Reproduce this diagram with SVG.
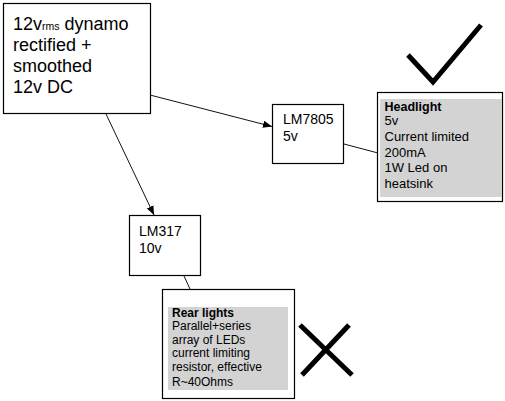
<svg xmlns="http://www.w3.org/2000/svg" width="505" height="401" viewBox="0 0 505 401">
<style>
.box{fill:#fff;stroke:#000;stroke-width:1.2}
.gray{fill:#d3d3d3;stroke:none}
.t{font-family:"Liberation Sans",Arial,sans-serif;fill:#000}
.conn{stroke:#111;stroke-width:1;fill:none}
.mark{stroke:#000;stroke-width:5;fill:none}
</style>
<defs>
<marker id="arr" viewBox="0 0 10 10" refX="10" refY="5" markerWidth="9" markerHeight="9" markerUnits="userSpaceOnUse" orient="auto">
<path d="M0,1 L10,5 L0,9 Z" fill="#000"/>
</marker>
</defs>
<rect width="505" height="401" fill="#fff"/>
<g id="connectors">
<line class="conn" x1="150" y1="95" x2="272" y2="126.5" marker-end="url(#arr)"/>
<line class="conn" x1="106" y1="114" x2="154" y2="215" marker-end="url(#arr)"/>
<line class="conn" x1="344" y1="144" x2="378" y2="153"/>
<line class="conn" x1="184" y1="276" x2="190" y2="289"/>
</g>
<g id="dynamo">
<rect class="box" x="3.5" y="3.5" width="147" height="110"/>
<text class="t" font-size="18" x="13" y="30">12v<tspan font-size="10.5">rms</tspan> dynamo</text>
<text class="t" font-size="18" x="13" y="51">rectified +</text>
<text class="t" font-size="18" x="13" y="72">smoothed</text>
<text class="t" font-size="18" x="13" y="93">12v DC</text>
</g>
<g id="lm7805">
<rect class="box" x="272.5" y="104.5" width="71" height="59"/>
<text class="t" font-size="14" x="283" y="124">LM7805</text>
<text class="t" font-size="14" x="283" y="140.5">5v</text>
</g>
<g id="headlight">
<rect class="box" x="377.5" y="92.5" width="125" height="109"/>
<rect class="gray" x="380" y="99" width="122" height="98"/>
<text class="t" font-size="12.5" font-weight="bold" x="384.5" y="110.5">Headlight</text>
<text class="t" font-size="13" x="384.5" y="124.5">5v</text>
<text class="t" font-size="13" x="384.5" y="140.5">Current limited</text>
<text class="t" font-size="13" x="384.5" y="156.5">200mA</text>
<text class="t" font-size="13" x="384.5" y="172">1W Led on</text>
<text class="t" font-size="13" x="384.5" y="187.5">heatsink</text>
</g>
<g id="check">
<polyline class="mark" points="408,55 433,82 481,25"/>
</g>
<g id="lm317">
<rect class="box" x="129.5" y="215.5" width="71" height="60"/>
<text class="t" font-size="14" x="139" y="236">LM317</text>
<text class="t" font-size="14" x="139" y="253">10v</text>
</g>
<g id="rearlights">
<rect class="box" x="162.5" y="289.5" width="132" height="109"/>
<rect class="gray" x="168" y="307" width="120" height="83"/>
<text class="t" font-size="12" font-weight="bold" x="172" y="316.5">Rear lights</text>
<text class="t" font-size="12" x="172" y="330">Parallel+series</text>
<text class="t" font-size="12" x="172" y="343.5">array of LEDs</text>
<text class="t" font-size="12" x="172" y="357">current limiting</text>
<text class="t" font-size="12" x="172" y="371">resistor, effective</text>
<text class="t" font-size="12" x="172" y="385.5">R~40Ohms</text>
</g>
<g id="cross">
<line class="mark" x1="300" y1="325" x2="352" y2="375"/>
<line class="mark" x1="349" y1="325" x2="302" y2="375"/>
</g>
</svg>
